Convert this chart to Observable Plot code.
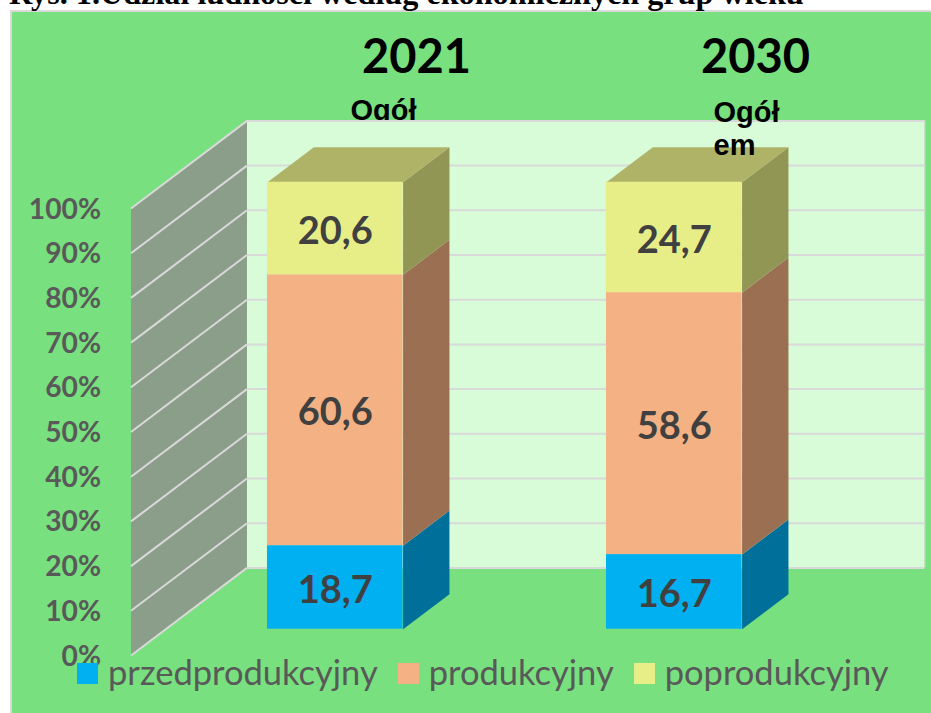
<!DOCTYPE html>
<html lang="pl">
<head>
<meta charset="utf-8">
<script src="https://cdn.jsdelivr.net/npm/d3@7"></script>
<script src="https://cdn.jsdelivr.net/npm/@observablehq/plot@0.6"></script>
<style>
html,body{margin:0;padding:0;background:#fff;overflow:hidden}
#page{position:relative;width:931px;height:713px;overflow:hidden;background:#fff}
#panel{position:absolute;left:10px;top:10px;right:-5px;bottom:-5px;background:#78e07e;border:2px solid #d9d9d9;box-sizing:border-box}
#title{position:absolute;left:9px;top:-25px;font:bold 32.2px "Liberation Serif",serif;color:#000;white-space:nowrap}
#chart{position:absolute;left:0;top:0}
#chart svg{background:transparent;display:block}
#legend{position:absolute;left:77px;top:650px;display:flex;align-items:center;font:34.5px Lato,sans-serif;color:#595959;white-space:nowrap;height:42px}
#legend .sw{display:inline-block;width:21px;height:21px;margin-right:10px;position:relative;top:2px}
#legend .it{display:flex;align-items:center;margin-right:20px}
</style>
</head>
<body>
<div id="page">
  <div id="panel"></div>
  <div id="title">Rys. 1.Udział ludności według ekonomicznych grup wieku</div>
  <div id="chart"></div>
  <div id="legend"></div>
</div>
<script>
const years = ["2021", "2030"];
const series = ["przedprodukcyjny", "produkcyjny", "poprodukcyjny"];
const przedprodukcyjny = [18.7, 16.7];
const produkcyjny = [60.6, 58.6];
const poprodukcyjny = [20.6, 24.7];
const yTicks = [0, 10, 20, 30, 40, 50, 60, 70, 80, 90, 100];
const frontColors = ["#00b0f0", "#f4b183", "#e7ee88"];
const sideColors = ["#00709a", "#9b7052", "#929655"];
const topColor = "#aeb368";
const wallColor = "#8a9e89";
const backColor = "#d8fbd8";
const gridColor = "#d9d9d9";

// oblique projection: depth d runs 0 (front of the left wall) .. 1 (back wall)
const depthX = 0.342, depthY = 19.6;
const px = (c, d) => c + depthX * d;
const py = (v, d) => v + depthY * d;
const d0 = 0.3, d1 = 0.7, half = 0.2;

const values = [przedprodukcyjny, produkcyjny, poprodukcyjny];
const fronts = [], faces = [], labels = [];
years.forEach((yr, i) => {
  let base = 0;
  values.forEach((vals, s) => {
    const v = vals[i], lo = base, hi = s === values.length - 1 ? 100 : base + v;
    base = hi;
    const id = yr + s;
    fronts.push({x1: px(i - half, d0), x2: px(i + half, d0), y1: py(lo, d0), y2: py(hi, d0), fill: frontColors[s]});
    [[i + half, lo, d0], [i + half, lo, d1], [i + half, hi, d1], [i + half, hi, d0]].forEach(([c, w, d]) =>
      faces.push({id: "s" + id, x: px(c, d), y: py(w, d), fill: sideColors[s]}));
    labels.push({x: px(i, d0), y: py((lo + hi) / 2, d0), text: v.toFixed(1).replace(".", ",")});
  });
  [[i - half, d0], [i - half, d1], [i + half, d1], [i + half, d0]].forEach(([c, d]) =>
    faces.push({id: "t" + yr, x: px(c, d), y: py(100, d), fill: topColor}));
});

const chart = Plot.plot({
  width: 931, height: 713,
  marginTop: 0, marginRight: 0, marginBottom: 0, marginLeft: 0,
  x: {domain: [-300 / 339, 631 / 339], range: [0, 931], axis: null},
  y: {domain: [-58 / 4.47, 655 / 4.47], range: [713, 0], axis: null},
  color: {type: "identity"},
  style: {background: "transparent"},
  marks: [
    // years and category captions
    Plot.text(years, {x: (d, i) => i, y: 100, text: d => d, dx: 116, dy: -151, fontFamily: "Lato", fontWeight: 700, fontSize: 47, fill: "#000"}),
    Plot.text(["Ogół"], {x: 0, y: 100, text: d => d, dx: 83, dy: -98, fontFamily: "Liberation Sans", fontWeight: 700, fontSize: 29, fill: "#000"}),
    // back wall
    Plot.rect([0], {x1: px(-0.5, 1), x2: px(1.5, 1), y1: py(0, 1), y2: py(100, 1), fill: backColor, inset: 0}),
    Plot.ruleY(yTicks, {y: d => py(d, 1), x1: px(-0.5, 1), x2: px(1.5, 1), stroke: gridColor, strokeWidth: 2}),
    Plot.ruleX([0], {x: px(1.5, 1), y1: py(0, 1), y2: py(100, 1), stroke: gridColor, strokeWidth: 1}),
    // left wall
    Plot.line([[0, 0], [1, 0], [1, 100], [0, 100]], {x: d => px(-0.5, d[0]), y: d => py(d[1], d[0]), fill: wallColor, stroke: "none"}),
    Plot.link(yTicks, {x1: px(-0.5, 0), x2: px(-0.5, 1), y1: d => py(d, 0), y2: d => py(d, 1), stroke: gridColor, strokeWidth: 2}),
    Plot.axisY(yTicks, {x: px(-0.5, 0), anchor: "left", tickSize: 0, tickPadding: 30, dy: 1, tickFormat: d => d + "%", fontFamily: "Lato", fontWeight: 700, fontSize: 28.2, fill: "#595959", label: null}),
    // bars
    Plot.line(faces, {x: "x", y: "y", z: "id", fill: "fill", stroke: "none"}),
    Plot.rect(fronts, {x1: "x1", x2: "x2", y1: "y1", y2: "y2", fill: "fill", inset: 0}),
    Plot.text(labels, {x: "x", y: "y", text: "text", dy: 3, fontFamily: "Lato", fontWeight: 700, fontSize: 38, fill: "#404040"}),
    // second caption sits over the bar
    Plot.text(["Ogół\nem"], {x: 1, y: 100, text: d => d, textAnchor: "start", lineHeight: 1.14, dx: 74, dy: -81, fontFamily: "Liberation Sans", fontWeight: 700, fontSize: 29, fill: "#000"})
  ]
});
document.getElementById("chart").append(chart);

const legend = d3.select("#legend");
series.forEach((name, s) => {
  const it = legend.append("span").attr("class", "it");
  it.append("span").attr("class", "sw").style("background", frontColors[s]);
  it.append("span").text(name);
});
</script>
</body>
</html>
